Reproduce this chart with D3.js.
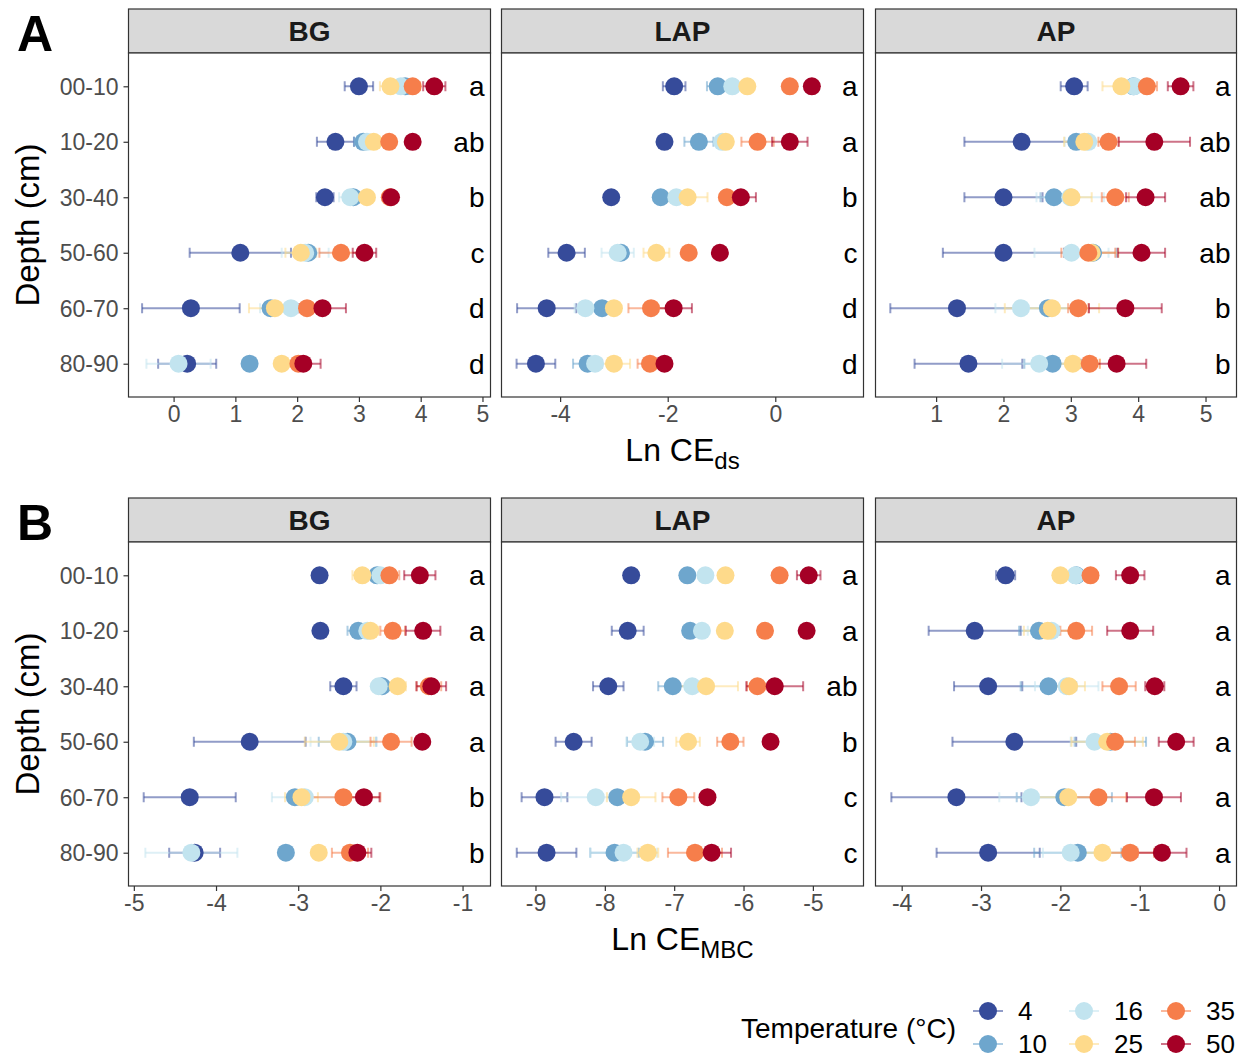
<!DOCTYPE html>
<html>
<head>
<meta charset="utf-8">
<script src="https://cdn.jsdelivr.net/npm/d3@7"></script>
<style>
  body { margin: 0; background: white; }
  svg text { font-family: "Liberation Sans", Arial, sans-serif; }
</style>
</head>
<body>
<div id="chart"></div>
<script>
const depths = ['00-10', '10-20', '30-40', '50-60', '60-70', '80-90'];
const temps = ['4', '10', '16', '25', '35', '50'];
const tempColors = ['#364B9A', '#6EA6CD', '#C2E4EF', '#FEDA8B', '#F67E4B', '#A50026'];
const enzymes = ['BG', 'LAP', 'AP'];

// values per depth row, columns in temperature order 4,10,16,25,35,50
const dsBGMean = [
  [3.00, 3.75, 3.68, 3.51, 3.87, 4.22],
  [2.62, 3.07, 3.13, 3.24, 3.49, 3.87],
  [2.45, 2.91, 2.86, 3.13, 3.50, 3.52],
  [1.08, 2.18, 2.13, 2.06, 2.71, 3.09],
  [0.28, 1.57, 1.90, 1.64, 2.16, 2.41],
  [0.22, 1.23, 0.08, 1.75, 2.02, 2.10]
];
const dsBGSe = [
  [0.23, 0.08, 0.05, 0.17, 0.12, 0.18],
  [0.30, 0.15, 0.08, 0.08, 0.08, 0.05],
  [0.14, 0.08, 0.18, 0.05, 0.05, 0.05],
  [0.82, 0.10, 0.38, 0.25, 0.35, 0.19],
  [0.79, 0.10, 0.50, 0.42, 0.10, 0.38],
  [0.47, 0.05, 0.52, 0.05, 0.05, 0.28]
];
const dsLAPMean = [
  [-1.88, -1.07, -0.80, -0.52, 0.27, 0.68],
  [-2.06, -1.42, -0.99, -0.92, -0.33, 0.27],
  [-3.05, -2.13, -1.84, -1.63, -0.90, -0.64],
  [-3.88, -2.87, -2.93, -2.21, -1.61, -1.03],
  [-4.25, -3.22, -3.53, -3.00, -2.31, -1.89],
  [-4.45, -3.49, -3.35, -3.00, -2.33, -2.06]
];
const dsLAPSe = [
  [0.21, 0.20, 0.05, 0.05, 0.05, 0.05],
  [0.10, 0.27, 0.10, 0.10, 0.30, 0.33],
  [0.03, 0.05, 0.05, 0.37, 0.05, 0.28],
  [0.34, 0.05, 0.30, 0.24, 0.05, 0.05],
  [0.55, 0.05, 0.20, 0.05, 0.42, 0.34],
  [0.36, 0.27, 0.10, 0.30, 0.23, 0.05]
];
const dsAPMean = [
  [3.05, 3.93, 3.94, 3.75, 4.13, 4.63],
  [2.27, 3.08, 3.26, 3.20, 3.56, 4.24],
  [2.00, 2.75, 2.99, 3.01, 3.66, 4.11],
  [2.00, 3.33, 3.01, 3.31, 3.26, 4.05],
  [1.31, 2.66, 2.26, 2.72, 3.11, 3.81],
  [1.48, 2.73, 2.53, 3.03, 3.28, 3.68]
];
const dsAPSe = [
  [0.20, 0.10, 0.10, 0.28, 0.15, 0.19],
  [0.85, 0.10, 0.35, 0.30, 0.15, 0.53],
  [0.58, 0.20, 0.50, 0.30, 0.20, 0.29],
  [0.90, 0.35, 0.55, 0.40, 0.40, 0.35],
  [0.99, 0.35, 0.38, 0.70, 0.15, 0.54],
  [0.80, 0.42, 0.55, 0.40, 0.15, 0.44]
];
const mbcBGMean = [
  [-2.74, -2.04, -2.00, -2.22, -1.89, -1.52],
  [-2.73, -2.27, -2.16, -2.12, -1.85, -1.48],
  [-2.45, -1.98, -2.02, -1.79, -1.41, -1.38],
  [-3.59, -2.40, -2.45, -2.50, -1.87, -1.49],
  [-4.32, -3.04, -2.92, -2.96, -2.45, -2.20],
  [-4.26, -3.15, -4.30, -2.75, -2.37, -2.28]
];
const mbcBGSe = [
  [0.03, 0.05, 0.05, 0.12, 0.12, 0.19],
  [0.03, 0.13, 0.10, 0.10, 0.15, 0.21],
  [0.16, 0.05, 0.05, 0.10, 0.15, 0.18],
  [0.68, 0.35, 0.40, 0.42, 0.25, 0.05],
  [0.56, 0.05, 0.40, 0.20, 0.45, 0.19],
  [0.31, 0.03, 0.56, 0.05, 0.22, 0.17]
];
const mbcLAPMean = [
  [-7.62, -6.81, -6.55, -6.26, -5.48, -5.06],
  [-7.67, -6.77, -6.60, -6.27, -5.69, -5.09],
  [-7.95, -7.02, -6.74, -6.54, -5.80, -5.55],
  [-8.45, -7.42, -7.49, -6.80, -6.19, -5.61],
  [-8.87, -7.82, -8.13, -7.62, -6.94, -6.52],
  [-8.84, -7.86, -7.73, -7.38, -6.70, -6.46]
];
const mbcLAPSe = [
  [0.03, 0.03, 0.03, 0.05, 0.03, 0.17],
  [0.23, 0.10, 0.05, 0.05, 0.10, 0.03],
  [0.22, 0.21, 0.05, 0.46, 0.15, 0.41],
  [0.26, 0.26, 0.20, 0.17, 0.19, 0.03],
  [0.33, 0.10, 0.50, 0.35, 0.23, 0.03],
  [0.43, 0.35, 0.48, 0.15, 0.39, 0.28]
];
const mbcAPMean = [
  [-2.69, -1.80, -1.81, -2.00, -1.62, -1.12],
  [-3.08, -2.27, -2.11, -2.16, -1.80, -1.12],
  [-2.91, -2.15, -1.92, -1.89, -1.26, -0.81],
  [-2.58, -1.37, -1.57, -1.41, -1.31, -0.54],
  [-3.31, -1.95, -2.37, -1.90, -1.52, -0.82],
  [-2.91, -1.78, -1.87, -1.47, -1.12, -0.72]
];
const mbcAPSe = [
  [0.12, 0.05, 0.05, 0.05, 0.05, 0.18],
  [0.58, 0.25, 0.30, 0.30, 0.20, 0.29],
  [0.43, 0.35, 0.40, 0.20, 0.21, 0.12],
  [0.78, 0.45, 0.30, 0.45, 0.25, 0.22],
  [0.82, 0.60, 0.40, 0.40, 0.35, 0.34],
  [0.65, 0.55, 0.35, 0.35, 0.30, 0.31]
];

const dsBGLetters = ['a', 'ab', 'b', 'c', 'd', 'd'];
const dsLAPLetters = ['a', 'a', 'b', 'c', 'd', 'd'];
const dsAPLetters = ['a', 'ab', 'ab', 'ab', 'b', 'b'];
const mbcBGLetters = ['a', 'a', 'a', 'a', 'b', 'b'];
const mbcLAPLetters = ['a', 'a', 'ab', 'b', 'c', 'c'];
const mbcAPLetters = ['a', 'a', 'a', 'a', 'a', 'a'];

const dsTicks = [[0, 1, 2, 3, 4, 5], [-4, -2, 0], [1, 2, 3, 4, 5]];
const mbcTicks = [[-5, -4, -3, -2, -1], [-9, -8, -7, -6, -5], [-4, -3, -2, -1, 0]];

const width = 1239;
const height = 1059;
const panelX = [[128.5, 490.5], [501.5, 863.5], [875.5, 1236.5]];
const tickColor = '#4D4D4D';
const borderColor = '#333333';
const pointRadius = 9;
const capHalf = 5;

const svg = d3.select('#chart')
  .append('svg')
  .attr('width', width)
  .attr('height', height);

function renderRow({top, label, means, ses, letters, ticks, domains, titleMain, titleSub}) {
  const stripTop = top;
  const stripBottom = top + 44;
  const panelBottom = stripBottom + 344;

  const yScale = d3.scalePoint()
    .domain(depths)
    .range([stripBottom, panelBottom])
    .padding(0.6);

  svg.append('text')
    .attr('x', 17)
    .attr('y', top + 42)
    .style('font-size', '50px')
    .style('font-weight', 'bold')
    .attr('fill', 'black')
    .text(label);

  svg.append('text')
    .attr('transform', `translate(39, ${(stripBottom + panelBottom) / 2}) rotate(-90)`)
    .attr('text-anchor', 'middle')
    .style('font-size', '33px')
    .attr('fill', 'black')
    .text('Depth (cm)');

  enzymes.forEach((enzyme, p) => {
    const [x0, x1] = panelX[p];
    const xScale = d3.scaleLinear().domain(domains[p]).range([x0, x1]);
    const g = svg.append('g').attr('class', `panel panel-${enzyme}`);

    // strip
    g.append('rect')
      .attr('x', x0)
      .attr('y', stripTop)
      .attr('width', x1 - x0)
      .attr('height', stripBottom - stripTop)
      .attr('fill', '#D9D9D9')
      .attr('stroke', borderColor)
      .attr('stroke-width', 1.2);
    g.append('text')
      .attr('x', (x0 + x1) / 2)
      .attr('y', (stripTop + stripBottom) / 2 + 10)
      .attr('text-anchor', 'middle')
      .style('font-size', '28px')
      .style('font-weight', 'bold')
      .attr('fill', '#1A1A1A')
      .text(enzyme);

    // panel background
    g.append('rect')
      .attr('x', x0)
      .attr('y', stripBottom)
      .attr('width', x1 - x0)
      .attr('height', panelBottom - stripBottom)
      .attr('fill', 'white');

    const xAxis = g.append('g')
      .attr('transform', `translate(0, ${panelBottom})`)
      .call(d3.axisBottom(xScale).tickValues(ticks[p]).tickSize(5).tickPadding(4).tickFormat(d => String(d)));
    xAxis.select('.domain').remove();
    xAxis.selectAll('line').attr('stroke', borderColor).attr('stroke-width', 1.2);
    xAxis.selectAll('text')
      .attr('fill', tickColor)
      .style('font-size', '23px')
      .style('font-family', '"Liberation Sans", Arial, sans-serif');

    if (p === 0) {
      const yAxis = g.append('g')
        .attr('transform', `translate(${x0}, 0)`)
        .call(d3.axisLeft(yScale).tickSize(5).tickPadding(5));
      yAxis.select('.domain').remove();
      yAxis.selectAll('line').attr('stroke', borderColor).attr('stroke-width', 1.2);
      yAxis.selectAll('text')
        .attr('fill', tickColor)
        .attr('dy', '0.35em')
        .style('font-size', '23px')
        .style('font-family', '"Liberation Sans", Arial, sans-serif');
    }

    const clip = `clip-${label}-${enzyme}`;
    g.append('clipPath').attr('id', clip)
      .append('rect')
      .attr('x', x0)
      .attr('y', stripBottom)
      .attr('width', x1 - x0)
      .attr('height', panelBottom - stripBottom);

    const marks = g.append('g').attr('clip-path', `url(#${clip})`);

    // error bars below points
    const bars = marks.append('g').attr('class', 'error-bars');
    depths.forEach((depth, r) => {
      temps.forEach((t, k) => {
        const m = means[p][r][k];
        const s = ses[p][r][k];
        const cy = yScale(depth);
        const lo = xScale(m - s);
        const hi = xScale(m + s);
        const bar = bars.append('g')
          .attr('stroke', tempColors[k])
          .attr('stroke-opacity', 0.55)
          .attr('stroke-width', 2);
        bar.append('line').attr('x1', lo).attr('x2', hi).attr('y1', cy).attr('y2', cy);
        bar.append('line').attr('x1', lo).attr('x2', lo).attr('y1', cy - capHalf).attr('y2', cy + capHalf);
        bar.append('line').attr('x1', hi).attr('x2', hi).attr('y1', cy - capHalf).attr('y2', cy + capHalf);
      });
    });

    const points = marks.append('g').attr('class', 'points');
    depths.forEach((depth, r) => {
      temps.forEach((t, k) => {
        points.append('circle')
          .attr('cx', xScale(means[p][r][k]))
          .attr('cy', yScale(depth))
          .attr('r', pointRadius)
          .attr('fill', tempColors[k]);
      });
    });

    // significance letters
    depths.forEach((depth, r) => {
      g.append('text')
        .attr('x', x1 - 6)
        .attr('y', yScale(depth) + 10)
        .attr('text-anchor', 'end')
        .style('font-size', '28px')
        .attr('fill', 'black')
        .text(letters[p][r]);
    });

    // border
    g.append('rect')
      .attr('x', x0)
      .attr('y', stripBottom)
      .attr('width', x1 - x0)
      .attr('height', panelBottom - stripBottom)
      .attr('fill', 'none')
      .attr('stroke', borderColor)
      .attr('stroke-width', 1.2);
  });

  const title = svg.append('text')
    .attr('x', (panelX[1][0] + panelX[1][1]) / 2)
    .attr('y', panelBottom + 64)
    .attr('text-anchor', 'middle')
    .style('font-size', '32px')
    .attr('fill', 'black');
  title.append('tspan').text(titleMain);
  title.append('tspan')
    .attr('dy', 8)
    .style('font-size', '24px')
    .text(titleSub);
}

renderRow({
  top: 9,
  label: 'A',
  means: [dsBGMean, dsLAPMean, dsAPMean],
  ses: [dsBGSe, dsLAPSe, dsAPSe],
  letters: [dsBGLetters, dsLAPLetters, dsAPLetters],
  ticks: dsTicks,
  domains: [[-0.73, 5.13], [-5.09, 1.64], [0.10, 5.46]],
  titleMain: 'Ln CE',
  titleSub: 'ds'
});

renderRow({
  top: 498,
  label: 'B',
  means: [mbcBGMean, mbcLAPMean, mbcAPMean],
  ses: [mbcBGSe, mbcLAPSe, mbcAPSe],
  letters: [mbcBGLetters, mbcLAPLetters, mbcAPLetters],
  ticks: mbcTicks,
  domains: [[-5.065, -0.66], [-9.49, -4.27], [-4.33, 0.22]],
  titleMain: 'Ln CE',
  titleSub: 'MBC'
});

// legend
const legend = svg.append('g').attr('class', 'legend');
legend.append('text')
  .attr('x', 741)
  .attr('y', 1038)
  .style('font-size', '28px')
  .attr('fill', 'black')
  .text('Temperature (°C)');

const legendCols = [988, 1084, 1176];
const legendRows = [1011, 1044];
temps.forEach((t, k) => {
  const cx = legendCols[Math.floor(k / 2)];
  const cy = legendRows[k % 2];
  legend.append('line')
    .attr('x1', cx - 15)
    .attr('x2', cx + 15)
    .attr('y1', cy)
    .attr('y2', cy)
    .attr('stroke', tempColors[k])
    .attr('stroke-opacity', 0.55)
    .attr('stroke-width', 2);
  legend.append('circle')
    .attr('cx', cx)
    .attr('cy', cy)
    .attr('r', pointRadius)
    .attr('fill', tempColors[k]);
  legend.append('text')
    .attr('x', cx + 30)
    .attr('y', cy + 9)
    .style('font-size', '26px')
    .attr('fill', 'black')
    .text(t);
});
</script>
</body>
</html>
